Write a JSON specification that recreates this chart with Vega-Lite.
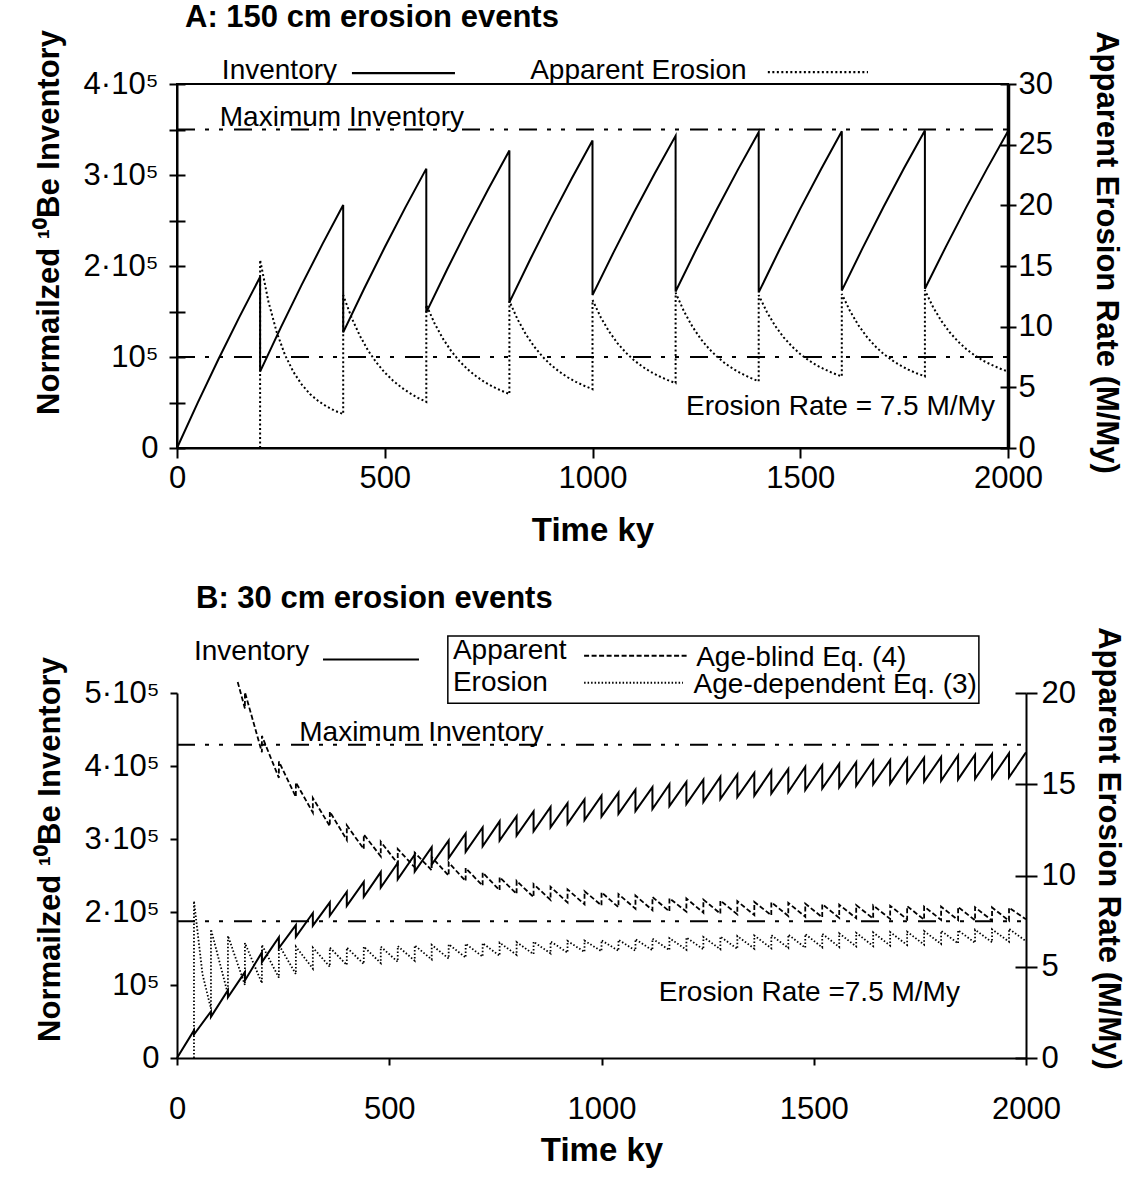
{
"$schema": "https://vega.github.io/schema/vega-lite/v6.json",
"background": "white",
"padding": {"left": 32, "top": 0, "right": 5, "bottom": 5},
"spacing": 34,
"resolve": {"scale": {"strokeDash": "independent"}},
"config": {
 "font": "Liberation Sans",
 "view": {"stroke": null},
 "axis": {"grid": false, "domainColor": "black", "tickColor": "black", "labelColor": "black", "titleColor": "black", "labelFont": "Liberation Sans", "titleFont": "Liberation Sans", "labelFontSize": 31, "titleFontSize": 31, "titleFontWeight": "bold", "domainWidth": 2, "tickWidth": 2, "labelFlush": false, "labelOverlap": false},
 "axisX": {"titleFontSize": 33},
 "title": {"font": "Liberation Sans", "fontSize": 31, "fontWeight": "bold", "color": "black", "anchor": "start", "frame": "group"},
 "text": {"font": "Liberation Sans", "fontSize": 28, "color": "black", "align": "left", "baseline": "alphabetic"}
},
"datasets": {
 "invA": [{"t":0,"v":0},{"t":50,"v":49800},{"t":100,"v":97800},{"t":150,"v":143800},{"t":200,"v":188000},{"t":200,"v":84000},{"t":250,"v":132500},{"t":300,"v":179200},{"t":350,"v":224000},{"t":400,"v":267000},{"t":400,"v":127000},{"t":450,"v":174700},{"t":500,"v":220600},{"t":550,"v":264700},{"t":600,"v":307000},{"t":600,"v":149000},{"t":650,"v":196200},{"t":700,"v":241600},{"t":750,"v":285200},{"t":800,"v":327000},{"t":800,"v":160000},{"t":850,"v":207200},{"t":900,"v":252600},{"t":950,"v":296200},{"t":1000,"v":338000},{"t":1000,"v":168000},{"t":1050,"v":214400},{"t":1100,"v":259000},{"t":1150,"v":301900},{"t":1200,"v":343000},{"t":1200,"v":172000},{"t":1250,"v":218400},{"t":1300,"v":263000},{"t":1350,"v":305900},{"t":1400,"v":347000},{"t":1400,"v":171000},{"t":1450,"v":217900},{"t":1500,"v":263000},{"t":1550,"v":306400},{"t":1600,"v":348000},{"t":1600,"v":173000},{"t":1650,"v":219600},{"t":1700,"v":264500},{"t":1750,"v":307600},{"t":1800,"v":349000},{"t":1800,"v":175000},{"t":1850,"v":220800},{"t":1900,"v":265000},{"t":1950,"v":307300},{"t":2000,"v":348000}],
 "eroA": [{"t":200,"v":0},{"t":200,"v":15.5},{"t":220,"v":12.07},{"t":240,"v":9.54},{"t":260,"v":7.66},{"t":280,"v":6.28},{"t":300,"v":5.24},{"t":320,"v":4.45},{"t":340,"v":3.87},{"t":360,"v":3.42},{"t":380,"v":3.07},{"t":400,"v":2.8},
  {"t":400,"v":12.6},{"t":420,"v":10.75},{"t":440,"v":9.26},{"t":460,"v":8.03},{"t":480,"v":7.04},{"t":500,"v":6.22},{"t":520,"v":5.55},{"t":540,"v":4.99},{"t":560,"v":4.53},{"t":580,"v":4.13},{"t":600,"v":3.8},
  {"t":600,"v":11.8},{"t":620,"v":10.26},{"t":640,"v":9.01},{"t":660,"v":7.99},{"t":680,"v":7.15},{"t":700,"v":6.47},{"t":720,"v":5.91},{"t":740,"v":5.44},{"t":760,"v":5.06},{"t":780,"v":4.73},{"t":800,"v":4.45},
  {"t":800,"v":12.1},{"t":820,"v":10.58},{"t":840,"v":9.35},{"t":860,"v":8.34},{"t":880,"v":7.52},{"t":900,"v":6.84},{"t":920,"v":6.29},{"t":940,"v":5.83},{"t":960,"v":5.45},{"t":980,"v":5.13},{"t":1000,"v":4.85},
  {"t":1000,"v":12.2},{"t":1020,"v":10.76},{"t":1040,"v":9.6},{"t":1060,"v":8.64},{"t":1080,"v":7.87},{"t":1100,"v":7.23},{"t":1120,"v":6.71},{"t":1140,"v":6.27},{"t":1160,"v":5.92},{"t":1180,"v":5.61},{"t":1200,"v":5.35},
  {"t":1200,"v":12.8},{"t":1220,"v":11.27},{"t":1240,"v":10.03},{"t":1260,"v":9.01},{"t":1280,"v":8.19},{"t":1300,"v":7.51},{"t":1320,"v":6.95},{"t":1340,"v":6.49},{"t":1360,"v":6.11},{"t":1380,"v":5.78},{"t":1400,"v":5.5},
  {"t":1400,"v":12.6},{"t":1420,"v":11.19},{"t":1440,"v":10.05},{"t":1460,"v":9.12},{"t":1480,"v":8.37},{"t":1500,"v":7.74},{"t":1520,"v":7.23},{"t":1540,"v":6.8},{"t":1560,"v":6.46},{"t":1580,"v":6.15},{"t":1600,"v":5.9},
  {"t":1600,"v":12.7},{"t":1620,"v":11.27},{"t":1640,"v":10.12},{"t":1660,"v":9.17},{"t":1680,"v":8.4},{"t":1700,"v":7.77},{"t":1720,"v":7.25},{"t":1740,"v":6.82},{"t":1760,"v":6.46},{"t":1780,"v":6.16},{"t":1800,"v":5.9},
  {"t":1800,"v":13.0},{"t":1820,"v":11.59},{"t":1840,"v":10.45},{"t":1860,"v":9.52},{"t":1880,"v":8.77},{"t":1900,"v":8.14},{"t":1920,"v":7.63},{"t":1940,"v":7.2},{"t":1960,"v":6.86},{"t":1980,"v":6.55},{"t":2000,"v":6.3}],
 "linA": [{"t":0,"v":350000,"g":"max"},{"t":2000,"v":350000,"g":"max"},{"t":0,"v":100000,"g":"true"},{"t":2000,"v":100000,"g":"true"},{"t":421,"v":412000,"g":"legInv"},{"t":669,"v":412000,"g":"legInv"},{"t":1422,"v":413000,"g":"legEro"},{"t":1663,"v":413000,"g":"legEro"}],
 "txtA": [{"t":108,"v":405400,"s":"Inventory"},{"t":850,"v":405400,"s":"Apparent Erosion"},{"t":103,"v":353700,"s":"Maximum Inventory"}],
 "txtA2": [{"t":1225,"v":2.7,"s":"Erosion Rate = 7.5 M/My"}],
 "invB": [{"t":0,"v":0},{"t":40,"v":37800},{"t":40,"v":32200},{"t":80,"v":63800},{"t":80,"v":56300},{"t":120,"v":92800},{"t":120,"v":83200},{"t":160,"v":117700},{"t":160,"v":106300},{"t":200,"v":144700},{"t":200,"v":131300},{"t":240,"v":165400},{"t":240,"v":150600},{"t":280,"v":182000},{"t":280,"v":166000},{"t":320,"v":198600},{"t":320,"v":181400},{"t":360,"v":213200},{"t":360,"v":194900},{"t":400,"v":227700},{"t":400,"v":208300},{"t":440,"v":241200},{"t":440,"v":220900},{"t":480,"v":254700},{"t":480,"v":233400},{"t":520,"v":267100},{"t":520,"v":244900},{"t":560,"v":278500},{"t":560,"v":255500},{"t":600,"v":288900},{"t":600,"v":265100},{"t":640,"v":298200},{"t":640,"v":273800},{"t":680,"v":307600},{"t":680,"v":282400},{"t":720,"v":315900},{"t":720,"v":290100},{"t":760,"v":324200},{"t":760,"v":297800},{"t":800,"v":331400},{"t":800,"v":304600},{"t":840,"v":337700},{"t":840,"v":310400},{"t":880,"v":343900},{"t":880,"v":316100},{"t":920,"v":349100},{"t":920,"v":320900},{"t":960,"v":354300},{"t":960,"v":325800},{"t":1000,"v":359400},{"t":1000,"v":330600},{"t":1040,"v":363600},{"t":1040,"v":334400},{"t":1080,"v":367700},{"t":1080,"v":338300},{"t":1120,"v":370900},{"t":1120,"v":341100},{"t":1160,"v":375000},{"t":1160,"v":345000},{"t":1200,"v":378100},{"t":1200,"v":347900},{"t":1240,"v":381200},{"t":1240,"v":350800},{"t":1280,"v":385400},{"t":1280,"v":354600},{"t":1320,"v":388500},{"t":1320,"v":357500},{"t":1360,"v":390600},{"t":1360,"v":359400},{"t":1400,"v":393700},{"t":1400,"v":362300},{"t":1440,"v":395800},{"t":1440,"v":364300},{"t":1480,"v":398900},{"t":1480,"v":367200},{"t":1520,"v":401000},{"t":1520,"v":369100},{"t":1560,"v":403000},{"t":1560,"v":371000},{"t":1600,"v":405100},{"t":1600,"v":372900},{"t":1640,"v":407200},{"t":1640,"v":374900},{"t":1680,"v":408200},{"t":1680,"v":375800},{"t":1720,"v":410300},{"t":1720,"v":377700},{"t":1760,"v":411300},{"t":1760,"v":378700},{"t":1800,"v":412400},{"t":1800,"v":379700},{"t":1840,"v":414400},{"t":1840,"v":381600},{"t":1880,"v":415500},{"t":1880,"v":382600},{"t":1920,"v":416500},{"t":1920,"v":383500},{"t":1960,"v":417600},{"t":1960,"v":384500},{"t":2000,"v":418600}],
 "abB": [{"t":143,"v":20.6},{"t":160,"v":19.15},{"t":160,"v":20.05},{"t":200,"v":16.75},{"t":200,"v":17.65},{"t":240,"v":15.35},{"t":240,"v":16.25},{"t":280,"v":14.3},{"t":280,"v":15.1},{"t":320,"v":13.45},{"t":320,"v":14.25},{"t":360,"v":12.7},{"t":360,"v":13.5},{"t":400,"v":11.95},{"t":400,"v":12.75},{"t":440,"v":11.45},{"t":440,"v":12.25},{"t":480,"v":11.05},{"t":480,"v":11.85},{"t":520,"v":10.65},{"t":520,"v":11.45},{"t":560,"v":10.45},{"t":560,"v":11.25},{"t":600,"v":10.29},{"t":600,"v":11.01},{"t":640,"v":9.99},{"t":640,"v":10.71},{"t":680,"v":9.69},{"t":680,"v":10.41},{"t":720,"v":9.44},{"t":720,"v":10.16},{"t":760,"v":9.19},{"t":760,"v":9.91},{"t":800,"v":8.99},{"t":800,"v":9.71},{"t":840,"v":8.81},{"t":840,"v":9.53},{"t":880,"v":8.66},{"t":880,"v":9.38},{"t":920,"v":8.52},{"t":920,"v":9.24},{"t":960,"v":8.42},{"t":960,"v":9.14},{"t":1000,"v":8.36},{"t":1000,"v":9.08},{"t":1040,"v":8.26},{"t":1040,"v":8.98},{"t":1080,"v":8.18},{"t":1080,"v":8.9},{"t":1120,"v":8.1},{"t":1120,"v":8.82},{"t":1160,"v":8.03},{"t":1160,"v":8.75},{"t":1200,"v":8.02},{"t":1200,"v":8.74},{"t":1240,"v":7.96},{"t":1240,"v":8.68},{"t":1280,"v":7.91},{"t":1280,"v":8.63},{"t":1320,"v":7.87},{"t":1320,"v":8.59},{"t":1360,"v":7.83},{"t":1360,"v":8.55},{"t":1400,"v":7.82},{"t":1400,"v":8.54},{"t":1440,"v":7.78},{"t":1440,"v":8.5},{"t":1480,"v":7.74},{"t":1480,"v":8.46},{"t":1520,"v":7.71},{"t":1520,"v":8.43},{"t":1560,"v":7.68},{"t":1560,"v":8.4},{"t":1600,"v":7.66},{"t":1600,"v":8.38},{"t":1640,"v":7.64},{"t":1640,"v":8.36},{"t":1680,"v":7.62},{"t":1680,"v":8.34},{"t":1720,"v":7.6},{"t":1720,"v":8.32},{"t":1760,"v":7.58},{"t":1760,"v":8.3},{"t":1800,"v":7.57},{"t":1800,"v":8.29},{"t":1840,"v":7.56},{"t":1840,"v":8.28},{"t":1880,"v":7.54},{"t":1880,"v":8.26},{"t":1920,"v":7.53},{"t":1920,"v":8.25},{"t":1960,"v":7.52},{"t":1960,"v":8.24},{"t":2000,"v":7.6}],
 "adB": [{"t":40,"v":0},{"t":40,"v":8.6},{"t":60,"v":4.6},{"t":80,"v":2.7},{"t":80,"v":7.05},{"t":120,"v":3.5},{"t":120,"v":6.7},{"t":160,"v":4.0},{"t":160,"v":6.3},{"t":200,"v":4.1},{"t":200,"v":6.2},{"t":240,"v":4.4},{"t":240,"v":6.2},{"t":280,"v":4.6},{"t":280,"v":6.1},{"t":320,"v":4.9},{"t":320,"v":6.05},{"t":360,"v":5.0},{"t":360,"v":6.05},{"t":400,"v":5.1},{"t":400,"v":6.05},{"t":440,"v":5.15},{"t":440,"v":6.1},{"t":480,"v":5.2},{"t":480,"v":6.1},{"t":520,"v":5.27},{"t":520,"v":6.13},{"t":560,"v":5.33},{"t":560,"v":6.17},{"t":600,"v":5.4},{"t":600,"v":6.2},{"t":640,"v":5.45},{"t":640,"v":6.23},{"t":680,"v":5.5},{"t":680,"v":6.26},{"t":720,"v":5.55},{"t":720,"v":6.29},{"t":760,"v":5.6},{"t":760,"v":6.32},{"t":800,"v":5.65},{"t":800,"v":6.35},{"t":840,"v":5.69},{"t":840,"v":6.37},{"t":880,"v":5.73},{"t":880,"v":6.39},{"t":920,"v":5.77},{"t":920,"v":6.41},{"t":960,"v":5.81},{"t":960,"v":6.43},{"t":1000,"v":5.85},{"t":1000,"v":6.45},{"t":1040,"v":5.87},{"t":1040,"v":6.48},{"t":1080,"v":5.88},{"t":1080,"v":6.51},{"t":1120,"v":5.9},{"t":1120,"v":6.54},{"t":1160,"v":5.91},{"t":1160,"v":6.57},{"t":1200,"v":5.93},{"t":1200,"v":6.6},{"t":1240,"v":5.95},{"t":1240,"v":6.63},{"t":1280,"v":5.96},{"t":1280,"v":6.65},{"t":1320,"v":5.98},{"t":1320,"v":6.68},{"t":1360,"v":5.99},{"t":1360,"v":6.71},{"t":1400,"v":6.01},{"t":1400,"v":6.73},{"t":1440,"v":6.03},{"t":1440,"v":6.76},{"t":1480,"v":6.04},{"t":1480,"v":6.79},{"t":1520,"v":6.06},{"t":1520,"v":6.81},{"t":1560,"v":6.08},{"t":1560,"v":6.83},{"t":1600,"v":6.11},{"t":1600,"v":6.86},{"t":1640,"v":6.13},{"t":1640,"v":6.88},{"t":1680,"v":6.16},{"t":1680,"v":6.9},{"t":1720,"v":6.19},{"t":1720,"v":6.92},{"t":1760,"v":6.21},{"t":1760,"v":6.95},{"t":1800,"v":6.25},{"t":1800,"v":6.97},{"t":1840,"v":6.28},{"t":1840,"v":7.0},{"t":1880,"v":6.31},{"t":1880,"v":7.03},{"t":1920,"v":6.34},{"t":1920,"v":7.05},{"t":1960,"v":6.37},{"t":1960,"v":7.08},{"t":2000,"v":6.4}],
 "linB": [{"t":0,"v":429000,"g":"max"},{"t":2000,"v":429000,"g":"max"},{"t":0,"v":187500,"g":"true"},{"t":2000,"v":187500,"g":"true"},{"t":344,"v":546000,"g":"legInv"},{"t":570,"v":546000,"g":"legInv"},{"t":959,"v":551000,"g":"legAB"},{"t":1206,"v":551000,"g":"legAB"},{"t":959,"v":514000,"g":"legAD"},{"t":1192,"v":514000,"g":"legAD"}],
 "txtB": [{"t":40,"v":545000,"s":"Inventory"},{"t":650,"v":546000,"s":"Apparent"},{"t":650,"v":503000,"s":"Erosion"},{"t":1223,"v":537000,"s":"Age-blind Eq. (4)"},{"t":1217,"v":500000,"s":"Age-dependent Eq. (3)"},{"t":288,"v":434000,"s":"Maximum Inventory"},{"t":1135,"v":78000,"s":"Erosion Rate =7.5 M/My"}],
 "boxB": [{"t":638,"t2":1889,"v":578000,"v2":486000}]
},
"vconcat": [
 {
  "width": 831, "height": 364,
  "view": {"stroke": "black", "strokeWidth": 2},
  "title": {"text": "A: 150 cm erosion events", "dx": 8, "offset": -4},
  "encoding": {"x": {"field": "t", "type": "quantitative", "scale": {"domain": [0, 2000], "nice": false}, "axis": {"values": [0, 500, 1000, 1500, 2000], "format": "d", "tickSize": 10, "labelPadding": 5, "title": "Time ky", "titlePadding": 21}}},
  "layer": [
   {"data": {"name": "invA"}, "mark": {"type": "line", "color": "black", "strokeWidth": 2},
    "encoding": {"y": {"field": "v", "type": "quantitative", "scale": {"domain": [0, 400000], "nice": false}, "axis": {"orient": "left", "values": [0, 50000, 100000, 150000, 200000, 250000, 300000, 350000, 400000], "tickSize": 8, "labelPadding": 11, "labelExpr": "datum.value == 0 ? '0' : datum.value == 100000 ? '10\u2075' : datum.value % 100000 == 0 ? (datum.value / 100000) + '\u00b710\u2075' : ''", "title": "Normailzed \u00b9\u2070Be Inventory", "titlePadding": 18, "titleY": 138}}, "order": {"value": null}}},
   {"data": {"name": "linA"}, "mark": {"type": "line", "color": "black", "strokeWidth": 2.2},
    "encoding": {"y": {"field": "v", "type": "quantitative", "scale": {"domain": [0, 400000], "nice": false}, "axis": {"orient": "left", "values": [0, 50000, 100000, 150000, 200000, 250000, 300000, 350000, 400000], "tickSize": 8, "offset": -8, "labels": false, "domain": false, "title": null}},
     "detail": {"field": "g", "type": "nominal"},
     "strokeDash": {"field": "g", "type": "nominal", "scale": {"domain": ["max", "true", "legInv", "legEro"], "range": [[18, 10, 4, 10, 4, 11], [18, 10, 4, 10, 4, 11], [1, 0], [2, 2.5]]}, "legend": null}}},
   {"data": {"name": "eroA"}, "mark": {"type": "line", "color": "black", "strokeWidth": 2, "strokeDash": [2, 2.5]},
    "encoding": {"y": {"field": "v", "type": "quantitative", "scale": {"domain": [0, 30], "nice": false}, "axis": {"orient": "right", "values": [0, 5, 10, 15, 20, 25, 30], "tickSize": 8, "labelPadding": 2, "domainWidth": 3.5, "title": "Apparent Erosion Rate (M/My)", "titlePadding": 37, "titleY": 168}}, "order": {"value": null}}},
   {"data": {"name": "txtA2"}, "mark": {"type": "text"},
    "encoding": {"y": {"field": "v", "type": "quantitative", "scale": {"domain": [0, 30], "nice": false}, "axis": {"orient": "right", "values": [0, 5, 10, 15, 20, 25, 30], "tickSize": 8, "offset": -8, "labels": false, "domain": false, "title": null}}, "text": {"field": "s"}}},
   {"data": {"name": "txtA"}, "mark": {"type": "text"},
    "encoding": {"y": {"field": "v", "type": "quantitative", "scale": {"domain": [0, 400000], "nice": false}, "axis": null}, "text": {"field": "s"}}}
  ],
  "resolve": {"scale": {"y": "independent"}, "axis": {"y": "independent"}}
 },
 {
  "width": 849, "height": 365,
  "title": {"text": "B: 30 cm erosion events", "dx": 19, "offset": 12},
  "encoding": {"x": {"field": "t", "type": "quantitative", "scale": {"domain": [0, 2000], "nice": false}, "axis": {"values": [0, 500, 1000, 1500, 2000], "format": "d", "tickSize": 7, "labelPadding": 29, "title": "Time ky", "titlePadding": 10}}},
  "layer": [
   {"data": {"name": "boxB"}, "mark": {"type": "rect", "fill": "white", "fillOpacity": 0, "stroke": "black", "strokeWidth": 1.5},
    "encoding": {"x2": {"field": "t2"}, "y": {"field": "v", "type": "quantitative", "scale": {"domain": [0, 500000], "nice": false}, "axis": null}, "y2": {"field": "v2"}}},
   {"data": {"name": "invB"}, "mark": {"type": "line", "color": "black", "strokeWidth": 2},
    "encoding": {"y": {"field": "v", "type": "quantitative", "scale": {"domain": [0, 500000], "nice": false}, "axis": {"orient": "left", "values": [0, 100000, 200000, 300000, 400000, 500000], "tickSize": 7, "labelPadding": 11, "labelExpr": "datum.value == 0 ? '0' : datum.value == 100000 ? '10\u2075' : (datum.value / 100000) + '\u00b710\u2075'", "title": "Normailzed \u00b9\u2070Be Inventory", "titlePadding": 18, "titleY": 156}}, "order": {"value": null}}},
   {"data": {"name": "linB"}, "mark": {"type": "line", "color": "black", "strokeWidth": 2},
    "encoding": {"y": {"field": "v", "type": "quantitative", "scale": {"domain": [0, 500000], "nice": false}, "axis": null},
     "detail": {"field": "g", "type": "nominal"},
     "strokeDash": {"field": "g", "type": "nominal", "scale": {"domain": ["max", "true", "legInv", "legAB", "legAD"], "range": [[18, 10, 4, 10, 4, 11], [18, 10, 4, 10, 4, 11], [1, 0], [5, 2.5], [1.5, 2]]}, "legend": null}}},
   {"data": {"name": "abB"}, "mark": {"type": "line", "color": "black", "strokeWidth": 1.8, "strokeDash": [5, 2.5]},
    "encoding": {"y": {"field": "v", "type": "quantitative", "scale": {"domain": [0, 20], "nice": false}, "axis": {"orient": "right", "values": [0, 5, 10, 15, 20], "tickSize": 11, "labelPadding": 4, "title": "Apparent Erosion Rate (M/My)", "titlePadding": 16, "titleY": 155}}, "order": {"value": null}}},
   {"data": {"name": "adB"}, "mark": {"type": "line", "color": "black", "strokeWidth": 1.8, "strokeDash": [1.5, 2]},
    "encoding": {"y": {"field": "v", "type": "quantitative", "scale": {"domain": [0, 20], "nice": false}, "axis": {"orient": "right", "values": [0, 5, 10, 15, 20], "tickSize": 11, "offset": -11, "labels": false, "domain": false, "title": null}}, "order": {"value": null}}},
   {"data": {"name": "txtB"}, "mark": {"type": "text"},
    "encoding": {"y": {"field": "v", "type": "quantitative", "scale": {"domain": [0, 500000], "nice": false}, "axis": null}, "text": {"field": "s"}}}
  ],
  "resolve": {"scale": {"y": "independent"}, "axis": {"y": "independent"}}
 }
]
}
